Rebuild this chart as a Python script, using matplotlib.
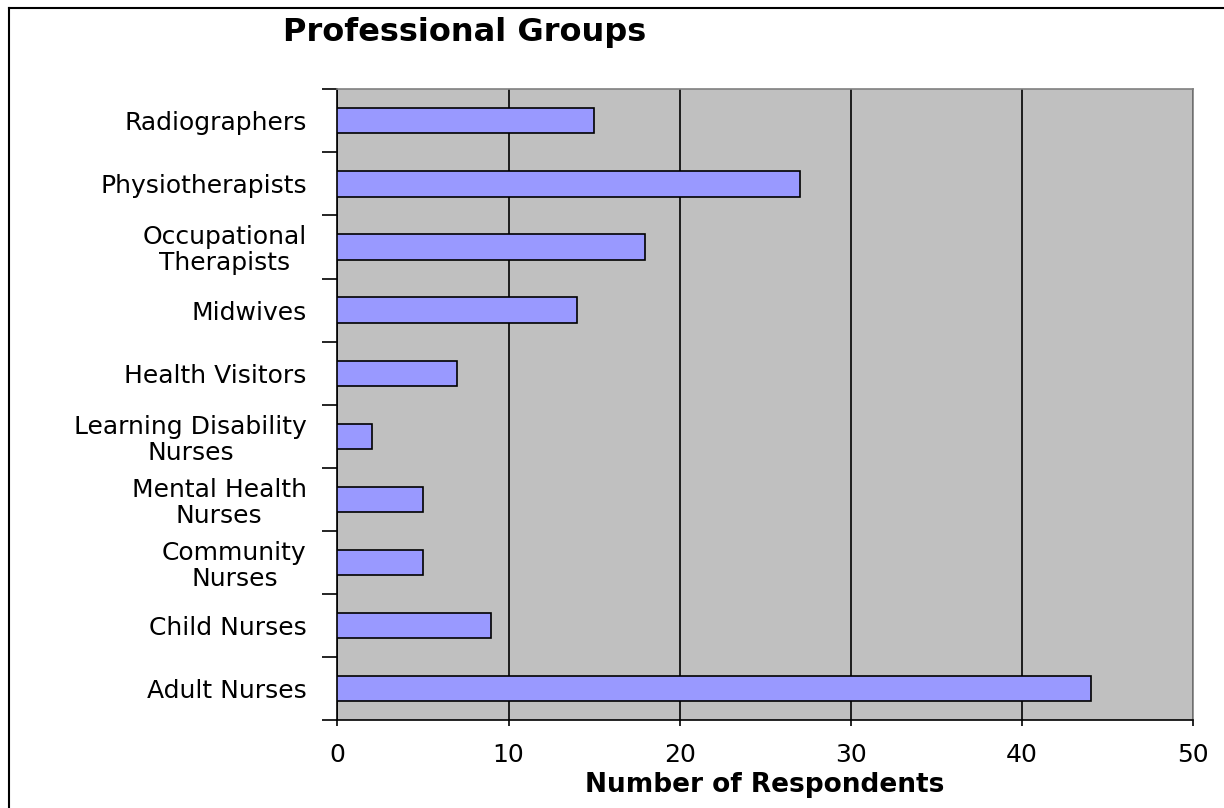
import matplotlib
matplotlib.use("Agg")
import matplotlib.pyplot as plt
from matplotlib.lines import Line2D
import numpy as np

categories = ["Adult Nurses", "Child Nurses", "Community\nNurses", "Mental Health\nNurses",
              "Learning Disability\nNurses", "Health Visitors", "Midwives",
              "Occupational\nTherapists", "Physiotherapists", "Radiographers"]
values = [44, 9, 5, 5, 2, 7, 14, 18, 27, 15]
xticks = [0, 10, 20, 30, 40, 50]

plt.rcParams['font.family'] = ['DejaVu Sans']

fig = plt.figure(figsize=(12.24, 8.08), dpi=100)
ax = fig.add_axes([337.3/1224, 1-720/808, (1193.3-337.3)/1224, (720-89.3)/808])
ax.set_facecolor('#C0C0C0')

pos = np.arange(len(categories))
ax.barh(pos, values, height=0.4, color='#9999FF', edgecolor='black', linewidth=1.2, zorder=3)

ax.set_xlim(0, 50)
ax.set_ylim(-0.5, len(categories) - 0.5)
ax.set_xticks(xticks)
ax.set_xticklabels([str(t) for t in xticks], fontsize=18)
ax.xaxis.grid(True, color='black', linewidth=1.2, zorder=1)
ax.set_axisbelow(True)

ax.set_yticks(pos)
ax.set_yticklabels(categories, fontsize=18, multialignment='center', linespacing=1.1)
ax.tick_params(axis='y', length=0, pad=22)
ax.set_yticks(np.arange(-0.5, len(categories)), minor=True)
ax.tick_params(axis='y', which='minor', length=11, width=1.2, direction='out')
ax.tick_params(axis='x', length=4.5, width=1.2, direction='out', pad=12)

for s in ['top', 'right']:
    ax.spines[s].set_color('#808080')
    ax.spines[s].set_linewidth(1.2)
for s in ['left', 'bottom']:
    ax.spines[s].set_color('black')
    ax.spines[s].set_linewidth(1.2)

fig.text(465/1224, 1-33/808, "Professional Groups", fontsize=23, fontweight='bold',
         ha='center', va='center')
fig.text(765/1224, 1-785/808, "Number of Respondents", fontsize=19, fontweight='bold',
         ha='center', va='center')

# figure border (left and top visible)
fig.add_artist(Line2D([8.5/1224, 8.5/1224], [0, 1-7.5/808], transform=fig.transFigure,
                      color='black', linewidth=1.5))
fig.add_artist(Line2D([8.5/1224, 1], [1-7.5/808, 1-7.5/808], transform=fig.transFigure,
                      color='black', linewidth=1.5))

fig.savefig("out.png", dpi=100)
